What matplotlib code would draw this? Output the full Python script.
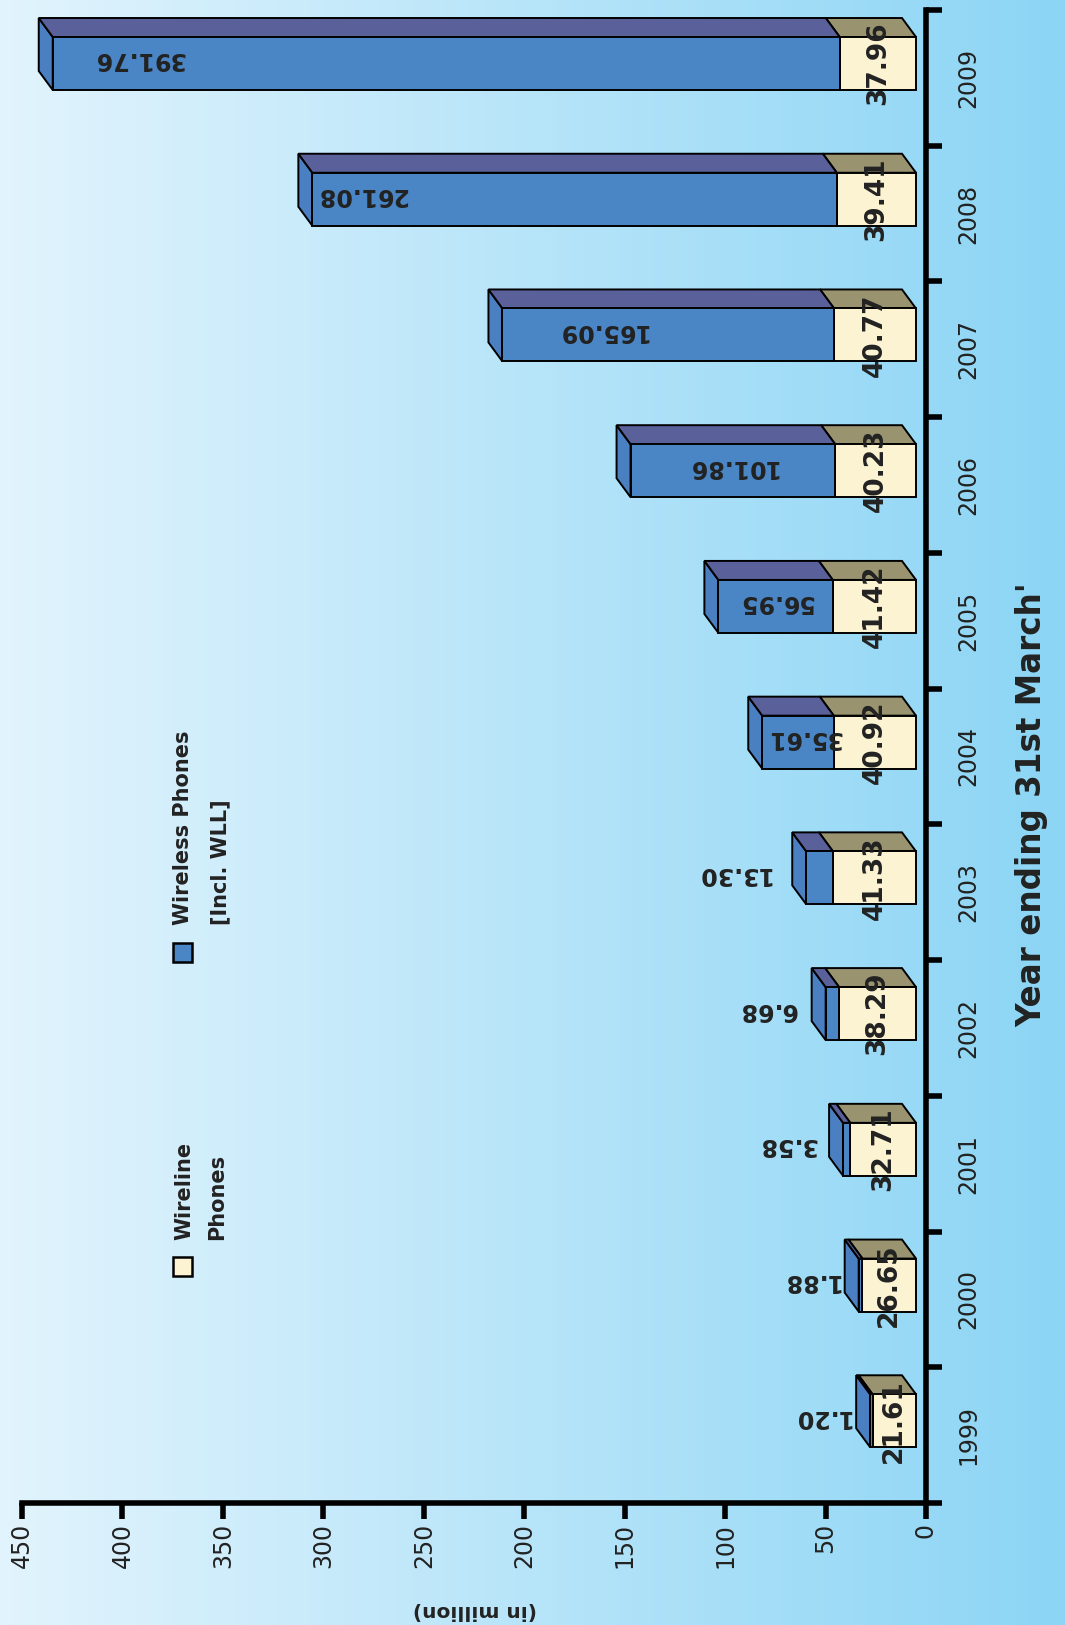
import matplotlib
matplotlib.use('Agg')
import matplotlib.pyplot as plt
import numpy as np
from matplotlib.patches import Polygon, Rectangle

# ---------------- data ----------------
years = ['1999', '2000', '2001', '2002', '2003', '2004', '2005', '2006', '2007', '2008', '2009']
wireline = [21.61, 26.65, 32.71, 38.29, 41.33, 40.92, 41.42, 40.23, 40.77, 39.41, 37.96]
wireless = [1.20, 1.88, 3.58, 6.68, 13.30, 35.61, 56.95, 101.86, 165.09, 261.08, 391.76]
value_ticks = [0, 50, 100, 150, 200, 250, 300, 350, 400, 450]

# ---------------- layout / style ----------------
W, H = 1065, 1625
wireless_label_pos = [52.3, 57.7, 69.2, 79.1, 96.3, 60.7, 74.7, 96.6, 161.3, 281.2, 391.7]
base = 4.98      # front face offset from 0 (data units)
ddx = 6.97       # depth in value units
ddy = 0.14       # depth in category units
f_bot, f_top = -0.0895, 0.301

c_ws_front = '#4A86C5'
c_ws_top = '#5A609A'
c_ws_side = '#4A7FC1'
c_wl_front = '#FBF3D1'
c_wl_top = '#9A9370'
lw_edge = 1.4
txt = '#222222'

fig = plt.figure(figsize=(W / 100, H / 100), dpi=100)

# background gradient
bg = fig.add_axes([0, 0, 1, 1])
c0 = np.array([226, 244, 253]) / 255
c1 = np.array([140, 213, 245]) / 255
t = np.linspace(0, 1, 512)
grad = (c0[None, :] * (1 - t[:, None]) + c1[None, :] * t[:, None])[None, :, :]
bg.imshow(grad, aspect='auto', extent=[0, 1, 0, 1])
bg.set_axis_off()

ax = fig.add_axes([22 / W, 1 - 1503 / H, 904 / W, 1493 / H])
ax.patch.set_alpha(0)
ax.set_xlim(450, 0)
ax.set_ylim(-0.5, 10.5)

for s in ['top', 'left']:
    ax.spines[s].set_visible(False)
for s in ['right', 'bottom']:
    ax.spines[s].set_linewidth(4)
    ax.spines[s].set_color('black')

ax.set_xticks(value_ticks)
ax.set_xticklabels([str(v) for v in value_ticks])
ax.tick_params(axis='x', direction='out', length=11.5, width=4, labelsize=17,
               labelrotation=90, pad=3, colors='black')
ax.yaxis.tick_right()
ax.set_yticks([i - 0.5 for i in range(len(years) + 1)])
ax.set_yticklabels([])
ax.tick_params(axis='y', direction='out', length=11.5, width=4, right=True, left=False)
for lbl in ax.get_xticklabels():
    lbl.set_color(txt)

for i, (wl, ws) in enumerate(zip(wireline, wireless)):
    tot = wl + ws
    bot, top = i + f_bot, i + f_top
    # side face (left end)
    ax.add_patch(Polygon([(base + tot, bot), (base + tot, top), (base + tot + ddx, top + ddy),
                          (base + tot + ddx, bot + ddy)], closed=True, fc=c_ws_side,
                         ec='black', lw=lw_edge, joinstyle='miter'))
    # top faces
    ax.add_patch(Polygon([(base, top), (base + wl, top), (base + wl + ddx, top + ddy),
                          (base + ddx, top + ddy)], closed=True, fc=c_wl_top,
                         ec='black', lw=lw_edge, joinstyle='miter'))
    ax.add_patch(Polygon([(base + wl, top), (base + tot, top), (base + tot + ddx, top + ddy),
                          (base + wl + ddx, top + ddy)], closed=True, fc=c_ws_top,
                         ec='black', lw=lw_edge, joinstyle='miter'))
    # front faces
    ax.add_patch(Rectangle((base, bot), wl, top - bot, fc=c_wl_front, ec='black',
                           lw=lw_edge, joinstyle='miter'))
    ax.add_patch(Rectangle((base + wl, bot), ws, top - bot, fc=c_ws_front, ec='black',
                           lw=lw_edge, joinstyle='miter'))
    # labels
    yc = (bot + top) / 2
    ax.text(base + wl / 2, yc, f'{wl:.2f}', rotation=90, ha='center', va='center',
            fontsize=19, fontweight='bold', color=txt)
    ax.text(wireless_label_pos[i], yc + 0.03, f'{ws:.2f}', rotation=180, ha='center',
            va='center', fontsize=17, fontweight='bold', color=txt)
    # year labels
    ax.text(1.0465, i, years[i], transform=ax.get_yaxis_transform(), rotation=90,
            ha='center', va='center', fontsize=17, color=txt)

# title and axis label
fig.text(1032 / W, 1 - 805 / H, "Year ending 31st March'", rotation=90, ha='center',
         va='center', fontsize=23.5, fontweight='bold', color=txt)
fig.text(475 / W, 1 - 1610 / H, '(in million)', rotation=180, ha='center', va='center',
         fontsize=14.5, fontweight='bold', color=txt)

# legend
fig.add_artist(Rectangle((173 / W, 1 - 962 / H), 19 / W, 19 / H, transform=fig.transFigure,
                         fc=c_ws_front, ec='black', lw=1.8))
fig.text(183 / W, 1 - 925 / H, 'Wireless Phones', rotation=90, ha='center', va='bottom',
         fontsize=15, fontweight='bold', color=txt)
fig.text(220 / W, 1 - 925 / H, '[Incl. WLL]', rotation=90, ha='center', va='bottom',
         fontsize=15, fontweight='bold', color=txt)
fig.add_artist(Rectangle((173 / W, 1 - 1276 / H), 19 / W, 19 / H, transform=fig.transFigure,
                         fc=c_wl_front, ec='black', lw=1.8))
fig.text(184 / W, 1 - 1240 / H, 'Wireline', rotation=90, ha='center', va='bottom',
         fontsize=15, fontweight='bold', color=txt)
fig.text(217 / W, 1 - 1240 / H, 'Phones', rotation=90, ha='center', va='bottom',
         fontsize=15, fontweight='bold', color=txt)

fig.savefig('out.png', dpi=100)
